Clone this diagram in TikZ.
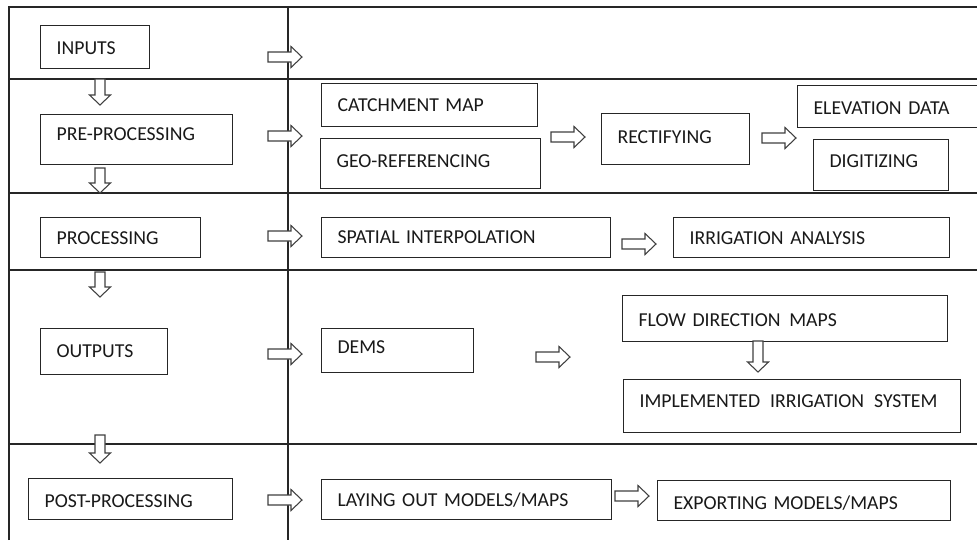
\documentclass[tikz,border=0pt]{standalone}
\usepackage{fontspec}
\setmainfont{Carlito}
\begin{document}
\begin{tikzpicture}[x=0.75pt,y=-0.75pt,
  frame/.style={line width=0.9pt, draw=black!85},
  box/.style={draw=black!85, line width=0.9pt, anchor=north west, inner xsep=12pt, inner ysep=0pt,
    align=left, font=\fontsize{14.8}{17}\selectfont, text=black!90},
  arrowline/.style={draw=black!75, line width=0.8pt, fill=white, line join=miter},
  pics/rarr/.style={code={\draw[arrowline] (0,-5) -- (23,-5) -- (23,-10.5) -- (34,0) -- (23,10.5) -- (23,5) -- (0,5) -- cycle;}},
  pics/darr/.style={code={\draw[arrowline] (-5,0) -- (-5,#1-10) -- (-10.5,#1-10) -- (0,#1) -- (10.5,#1-10) -- (5,#1-10) -- (5,0) -- cycle;}}
]
\useasboundingbox (0,0) rectangle (977,540);
\clip (0,0) rectangle (977,540);
\fill[white] (0,0) rectangle (977,540);

% \bx{name}{x1}{y1}{x2}{y2}{raise of text in px}{text}
\newcommand\bx[7]{%
  \pgfmathsetmacro\bxw{(#4-#2)*0.75}%
  \pgfmathsetmacro\bxh{(#5-#3)*0.75}%
  \pgfmathsetmacro\bxt{(#4-#2)*0.75-24}%
  \pgfmathsetmacro\bxth{5+9.5-2*(#6)*0.75}%
  \node[box, minimum width=\bxw pt, minimum height=\bxh pt, text width=\bxt pt,
        text height=\bxth pt, text depth=5pt] (#1) at (#2,#3) {\mbox{#7}};}

% frame
\draw[frame] (9,540) -- (9,7) -- (977,7);
\draw[frame] (288,7) -- (288,540);
\foreach \yy in {79,193,270,444} \draw[frame] (8,\yy) -- (977,\yy);

% left column
\bx{inputs}{40}{25}{149}{68}{-1.5}{INPUTS}
\bx{pre}{40}{114}{232}{164}{5}{PRE-PROCESSING}
\bx{proc}{40}{217}{200}{257}{-1}{PROCESSING}
\bx{outp}{40}{328}{167}{374}{0}{OUTPUTS}
\bx{post}{28}{478}{232}{519}{-2.5}{POST-PROCESSING}

% right side
\bx{catch}{321}{83}{537}{126}{0}{CATCHMENT MAP}
\bx{geo}{320}{138}{540}{188}{2}{GEO-REFERENCING}
\bx{rect}{601}{113}{749}{164}{1.5}{RECTIFYING}
\bx{elev}{797}{85}{990}{127}{-2}{ELEVATION DATA}
\bx{digit}{813}{139}{948}{190}{3.5}{DIGITIZING}
\bx{spat}{321}{217}{610}{257}{0}{SPATIAL INTERPOLATION}
\bx{irr}{673}{217}{949}{257}{-1}{IRRIGATION ANALYSIS}
\bx{dems}{321}{328}{473}{372}{3}{DEMS}
\bx{flow}{622}{295}{947}{341}{-2}{FLOW DIRECTION\ \hspace{1.5pt}MAPS}
\bx{impl}{623}{379}{960}{432}{4.5}{IMPLEMENTED\ \hspace{2.5pt}IRRIGATION\ \hspace{2.5pt}SYSTEM}
\bx{lay}{321}{479}{611}{519}{-1}{LAYING OUT MODELS/MAPS}
\bx{exp}{657}{480}{950}{520}{-3}{EXPORTING MODELS/MAPS}

% right-pointing block arrows
\pic at (268,57) {rarr};
\pic at (268,136) {rarr};
\pic at (268,236) {rarr};
\pic at (268,354) {rarr};
\pic at (268,500) {rarr};
\pic at (551,137) {rarr};
\pic at (762,138) {rarr};
\pic at (622,244) {rarr};
\pic at (536,357) {rarr};
\pic at (615,496) {rarr};

% down-pointing block arrows
\pic at (100,79) {darr=26};
\pic at (100,168) {darr=25};
\pic at (100,272) {darr=25};
\pic at (100,435) {darr=28};
\pic at (758,341) {darr=31};
\end{tikzpicture}
\end{document}
